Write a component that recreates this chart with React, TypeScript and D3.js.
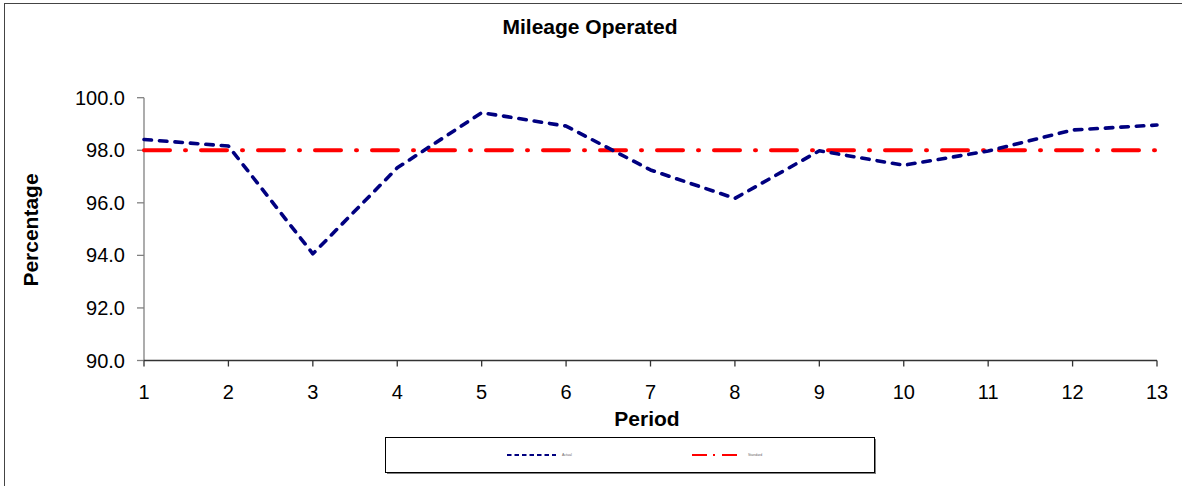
import React from 'react';
import * as d3 from 'd3';

// values
const periods = [1, 2, 3, 4, 5, 6, 7, 8, 9, 10, 11, 12, 13];
const actual = [98.41, 98.16, 94.06, 97.33, 99.43, 98.92, 97.25, 96.17, 97.98, 97.43, 97.97, 98.77, 98.96];
const target = [98, 98, 98, 98, 98, 98, 98, 98, 98, 98, 98, 98, 98];
const yTicks = [90, 92, 94, 96, 98, 100];
const legendLabels = ['Actual', 'Standard'];

const App = () => {
  const width = 1182;
  const height = 486;
  const left = 144;
  const right = 1157;
  const top = 97.7;
  const bottom = 360.5;

  const x = d3.scaleLinear().domain([1, 13]).range([left, right]);
  const y = d3.scaleLinear().domain([90, 100]).range([bottom, top]);

  const line = d3
    .line<number>()
    .x((_, i) => x(periods[i]))
    .y((d) => y(d));

  const font = 'Arial, "Liberation Sans", sans-serif';

  return (
    <svg
      width={width}
      height={height}
      style={{ position: 'absolute', left: 0, top: 0, fontFamily: font }}
    >
      <rect x={0} y={0} width={width} height={height} fill="#fff" />
      {/* chart frame, runs off the right and bottom */}
      <rect x={4.5} y={3.5} width={width + 10} height={height + 10} fill="none" stroke="#444" strokeWidth={1} />

      <text x={590} y={34} textAnchor="middle" fontWeight="bold" fontSize={21}>
        Mileage Operated
      </text>

      {/* y axis */}
      <line x1={left} x2={left} y1={top} y2={bottom} stroke="#808080" strokeWidth={1.3} />
      {yTicks.map((t) => (
        <g key={t}>
          <line x1={left - 7} x2={left} y1={y(t)} y2={y(t)} stroke="#808080" strokeWidth={1.3} />
          <text x={125} y={y(t) + 7} textAnchor="end" fontSize={20}>
            {t.toFixed(1)}
          </text>
        </g>
      ))}

      {/* x axis */}
      <line x1={left} x2={right} y1={bottom} y2={bottom} stroke="#333" strokeWidth={1.3} />
      {periods.map((p) => (
        <g key={p}>
          <line x1={x(p)} x2={x(p)} y1={bottom} y2={bottom + 6} stroke="#333" strokeWidth={1.3} />
          <text x={x(p)} y={399} textAnchor="middle" fontSize={20}>
            {p}
          </text>
        </g>
      ))}

      <text x={647} y={426} textAnchor="middle" fontWeight="bold" fontSize={21}>
        Period
      </text>
      <text
        transform={`translate(38,230) rotate(-90)`}
        textAnchor="middle"
        fontWeight="bold"
        fontSize={21}
      >
        Percentage
      </text>

      {/* target line */}
      <path
        d={line(target) || ''}
        fill="none"
        stroke="#ff0000"
        strokeWidth={4}
        strokeDasharray="26 15 1 15"
        strokeLinecap="round"
      />
      {/* actual line */}
      <path
        d={line(actual) || ''}
        fill="none"
        stroke="#000080"
        strokeWidth={3.6}
        strokeDasharray="7.5 8"
        strokeLinecap="round"
        strokeLinejoin="round"
      />

      {/* legend */}
      <rect x={387} y={439} width={489} height={35} fill="#808080" />
      <rect x={385.5} y={437.5} width={489} height={35} fill="#fff" stroke="#000" strokeWidth={1} />
      <line x1={507} x2={556} y1={455} y2={455} stroke="#000080" strokeWidth={2.2} strokeDasharray="4.5 3" />
      <text x={562} y={456.3} fontSize={3.5} fill="#666">
        {legendLabels[0]}
      </text>
      <line x1={692} x2={737} y1={455} y2={455} stroke="#ff0000" strokeWidth={2.2} strokeDasharray="15 6 2 7" />
      <text x={748} y={456.3} fontSize={3.5} fill="#666">
        {legendLabels[1]}
      </text>
    </svg>
  );
};

export default App;
